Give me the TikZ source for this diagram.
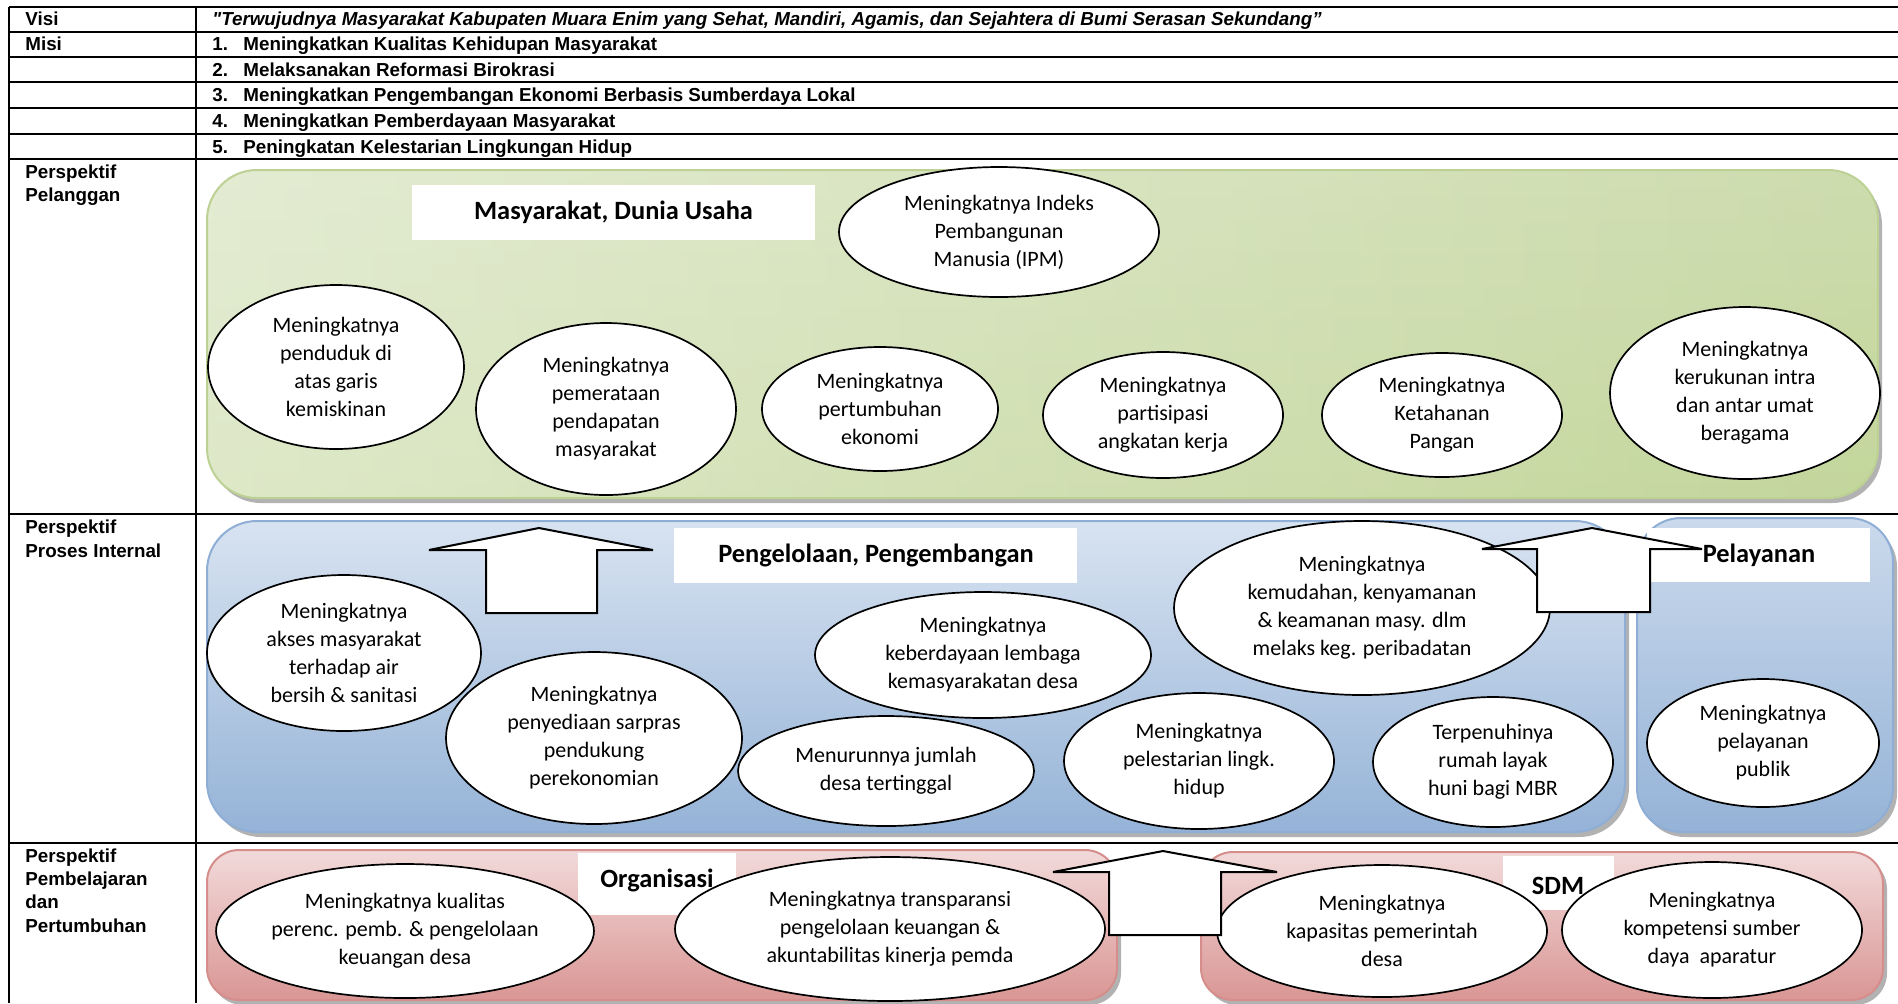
\documentclass[tikz,border=0pt]{standalone}
\usepackage{fontspec}
\setmainfont{Carlito}
\newfontfamily\tabfam{Liberation Sans}
\usetikzlibrary{shapes.geometric,fadings}
\newcommand\tabfont{\tabfam\bfseries\fontsize{9.4}{11}\selectfont}
\newcommand\ovalfont{\fontsize{11}{14}\selectfont}
\newcommand\labfont{\bfseries\fontsize{13.2}{16}\selectfont}
\definecolor{grnT}{HTML}{CDDCAE}
\definecolor{grnM}{HTML}{E4EBD5}
\definecolor{grnB}{HTML}{C3D69B}
\definecolor{grnE}{HTML}{BCD193}
\definecolor{bluT}{HTML}{D8E3F1}
\definecolor{bluM}{HTML}{D0DDEE}
\definecolor{bluB}{HTML}{95B3D7}
\definecolor{bluE}{HTML}{8FAED5}
\definecolor{redT}{HTML}{F2DADA}
\definecolor{redM}{HTML}{E6B8B7}
\definecolor{redB}{HTML}{D99694}
\definecolor{redE}{HTML}{D58E8C}
\tikzfading[name=fadeR, left color=transparent!0, right color=transparent!100]
\tikzset{
  oval/.style={ellipse, draw=black, line width=0.85pt, fill=white, inner sep=0pt, align=center, font=\ovalfont},
  labbox/.style={fill=white, draw=none, inner sep=0pt},
  labtext/.style={inner sep=0pt, font=\labfont},
  tabtxt/.style={anchor=base west, inner sep=0pt, font=\tabfont},
  tabline/.style={line width=0.75pt},
  blockarrow/.style={draw=black, line width=1pt, fill=white, line join=miter},
  shadowbox/.style={fill=black, opacity=0.3},
}
\begin{document}
\begin{tikzpicture}[x=0.5pt,y=-0.5pt]
\useasboundingbox[fill=white] (0,0) rectangle (1898,1003);

% ---------- table ----------
\foreach \yy in {7,32,57,82,108,134,159,514,843}
  \draw[tabline] (9,\yy) -- (1898,\yy);
\draw[tabline] (9,7) -- (9,1003);
\draw[tabline] (196,7) -- (196,1003);

\node[tabtxt] (tvisi) at (25,25) {Visi};
\node[tabtxt] (tmisi) at (25,50) {Misi};
\node[tabtxt] (tp1a) at (25,178) {Perspektif};
\node[tabtxt] (tp1b) at (25,201) {Pelanggan};
\node[tabtxt] (tp2a) at (25,533) {Perspektif};
\node[tabtxt] (tp2b) at (25,557) {Proses Internal};
\node[tabtxt] (tp3a) at (25,862) {Perspektif};
\node[tabtxt] (tp3b) at (25,885) {Pembelajaran};
\node[tabtxt] (tp3c) at (25,908) {dan};
\node[tabtxt] (tp3d) at (25,932) {Pertumbuhan};

\node[tabtxt] (visitext) at (212,25) {\itshape "Terwujudnya Masyarakat Kabupaten Muara Enim yang Sehat, Mandiri, Agamis, dan Sejahtera di Bumi Serasan Sekundang”};
\node[tabtxt] (n1) at (212,50) {1.};
\node[tabtxt] (m1) at (243,50) {Meningkatkan Kualitas Kehidupan Masyarakat};
\node[tabtxt] (n2) at (212,76) {2.};
\node[tabtxt] (m2) at (243,76) {Melaksanakan Reformasi Birokrasi};
\node[tabtxt] (n3) at (212,101) {3.};
\node[tabtxt] (m3) at (243,101) {Meningkatkan Pengembangan Ekonomi Berbasis Sumberdaya Lokal};
\node[tabtxt] (n4) at (212,127) {4.};
\node[tabtxt] (m4) at (243,127) {Meningkatkan Pemberdayaan Masyarakat};
\node[tabtxt] (n5) at (212,153) {5.};
\node[tabtxt] (m5) at (243,153) {Peningkatan Kelestarian Lingkungan Hidup};

% ---------- panels ----------
% green
\fill[shadowbox, rounded corners=25pt] (211,175) rectangle (1882,503);
\shade[rounded corners=25pt, top color=grnT, middle color=grnM, bottom color=grnB] (207,170) rectangle (1878,498);
\fill[white, path fading=fadeR, fill opacity=0.45, rounded corners=25pt] (207,170) rectangle (1878,498);
\draw[grnE, line width=1pt, rounded corners=25pt] (207,170) rectangle (1878,498);
% blue main
\fill[shadowbox, rounded corners=25pt] (211,526) rectangle (1629,837);
\shade[rounded corners=25pt, top color=bluT, middle color=bluM, bottom color=bluB] (207,521) rectangle (1625,832);
\draw[bluE, line width=1pt, rounded corners=25pt] (207,521) rectangle (1625,832);
% blue pelayanan
\fill[shadowbox, rounded corners=22pt] (1641,523) rectangle (1897,837);
\shade[rounded corners=22pt, top color=bluT!80!bluB, middle color=bluM, bottom color=bluB] (1637,518) rectangle (1893,832);
\draw[bluE, line width=1pt, rounded corners=22pt] (1637,518) rectangle (1893,832);
% red organisasi
\fill[shadowbox, rounded corners=16pt] (211,855) rectangle (1121,1005);
\shade[rounded corners=16pt, top color=redT, middle color=redM, bottom color=redB] (207,850) rectangle (1117,1000);
\draw[redE, line width=1pt, rounded corners=16pt] (207,850) rectangle (1117,1000);
% red SDM
\fill[shadowbox, rounded corners=16pt] (1205,857) rectangle (1887,1005);
\shade[rounded corners=16pt, top color=redT, middle color=redM, bottom color=redB] (1201,852) rectangle (1883,1000);
\draw[redE, line width=1pt, rounded corners=16pt] (1201,852) rectangle (1883,1000);

% ---------- label boxes ----------
\node[labbox, minimum width=201.5pt, minimum height=27.5pt] (lb1) at (613.5,212.5) {};
\node[labbox, minimum width=201.5pt, minimum height=27.5pt] (lb2) at (875.5,555.5) {};
\node[labbox, minimum width=111.5pt, minimum height=27pt] (lb3) at (1758.5,555) {};
\node[labbox, minimum width=79pt, minimum height=31pt] (lb4) at (657,884) {};
\node[labbox, minimum width=55.5pt, minimum height=27pt] (lb5) at (1558.5,883) {};

% ---------- ellipses: Pelanggan ----------
\node[oval, minimum width=160pt, minimum height=65pt] (ipm) at (999,232) {Meningkatnya Indeks\\Pembangunan\\Manusia (IPM)};
\node[oval, minimum width=128pt, minimum height=82pt] (e1) at (336,367) {Meningkatnya\\penduduk di\\atas garis\\kemiskinan};
\node[oval, minimum width=130pt, minimum height=86pt] (e2) at (606,409) {Meningkatnya\\pemerataan\\pendapatan\\masyarakat};
\node[oval, minimum width=118pt, minimum height=62pt] (e3) at (880,409) {Meningkatnya\\pertumbuhan\\ekonomi};
\node[oval, minimum width=120pt, minimum height=63pt] (e4) at (1163,415) {Meningkatnya\\partisipasi\\angkatan kerja};
\node[oval, minimum width=120pt, minimum height=62pt] (e5) at (1442,415) {Meningkatnya\\Ketahanan\\Pangan};
\node[oval, minimum width=135pt, minimum height=86pt] (e6) at (1745,393) {Meningkatnya\\kerukunan intra\\dan antar umat\\beragama};

% ---------- ellipses: Proses Internal ----------
\node[oval, minimum width=137pt, minimum height=78pt] (b1) at (344,653) {Meningkatnya\\akses masyarakat\\terhadap air\\bersih \& sanitasi};
\node[oval, minimum width=148pt, minimum height=86pt] (b2) at (594,738) {Meningkatnya\\penyediaan sarpras\\pendukung\\perekonomian};
\node[oval, minimum width=168pt, minimum height=63pt] (b3) at (983,655) {Meningkatnya\\keberdayaan lembaga\\kemasyarakatan desa};
\node[oval, minimum width=148pt, minimum height=55pt] (b4) at (886,771) {Menurunnya jumlah\\desa tertinggal};
\node[oval, minimum width=188pt, minimum height=87pt] (b5) at (1362,608) {Meningkatnya\\kemudahan, kenyamanan\\\& keamanan masy. dlm\\melaks keg. peribadatan};
\node[oval, minimum width=135pt, minimum height=68pt] (b6) at (1199,761) {Meningkatnya\\pelestarian lingk.\\hidup};
\node[oval, minimum width=120pt, minimum height=65pt] (b7) at (1493,762) {Terpenuhinya\\rumah layak\\huni bagi MBR};
\node[oval, minimum width=116pt, minimum height=64pt] (b8) at (1763,743) {Meningkatnya\\pelayanan\\publik};

% ---------- ellipses: Pembelajaran ----------
\node[oval, minimum width=180pt, minimum height=67pt] (r1) at (405,931) {Meningkatnya kualitas\\perenc. pemb. \& pengelolaan\\keuangan desa};
\node[oval, minimum width=215pt, minimum height=72pt] (r2) at (890,929) {Meningkatnya transparansi\\pengelolaan keuangan \&\\akuntabilitas kinerja pemda};
\node[oval, minimum width=165pt, minimum height=66pt] (r3) at (1382,931) {Meningkatnya\\kapasitas pemerintah\\desa};
\node[oval, minimum width=150pt, minimum height=68pt] (r4) at (1712,930) {Meningkatnya\\kompetensi sumber\\daya~~aparatur};

% ---------- label texts ----------
\node[labtext] (lt1) at (613.5,212) {Masyarakat, Dunia Usaha};
\node[labtext] (lt2) at (876,555) {Pengelolaan, Pengembangan};
\node[labtext] (lt3) at (1759,555) {Pelayanan};
\node[labtext] (lt4) at (657,880) {Organisasi};
\node[labtext] (lt5) at (1558,886) {SDM};

% ---------- block arrows ----------
\draw[blockarrow] (429,550) -- (539,528) -- (653,550) -- (597,550) -- (597,613) -- (486,613) -- (486,550) -- cycle;
\draw[blockarrow] (1482,549) -- (1592,528) -- (1702,549) -- (1650,549) -- (1650,612) -- (1537,612) -- (1537,549) -- cycle;
\draw[blockarrow] (1053,872) -- (1163,851) -- (1277,872) -- (1221,872) -- (1221,935) -- (1109,935) -- (1109,872) -- cycle;
\end{tikzpicture}
\end{document}
